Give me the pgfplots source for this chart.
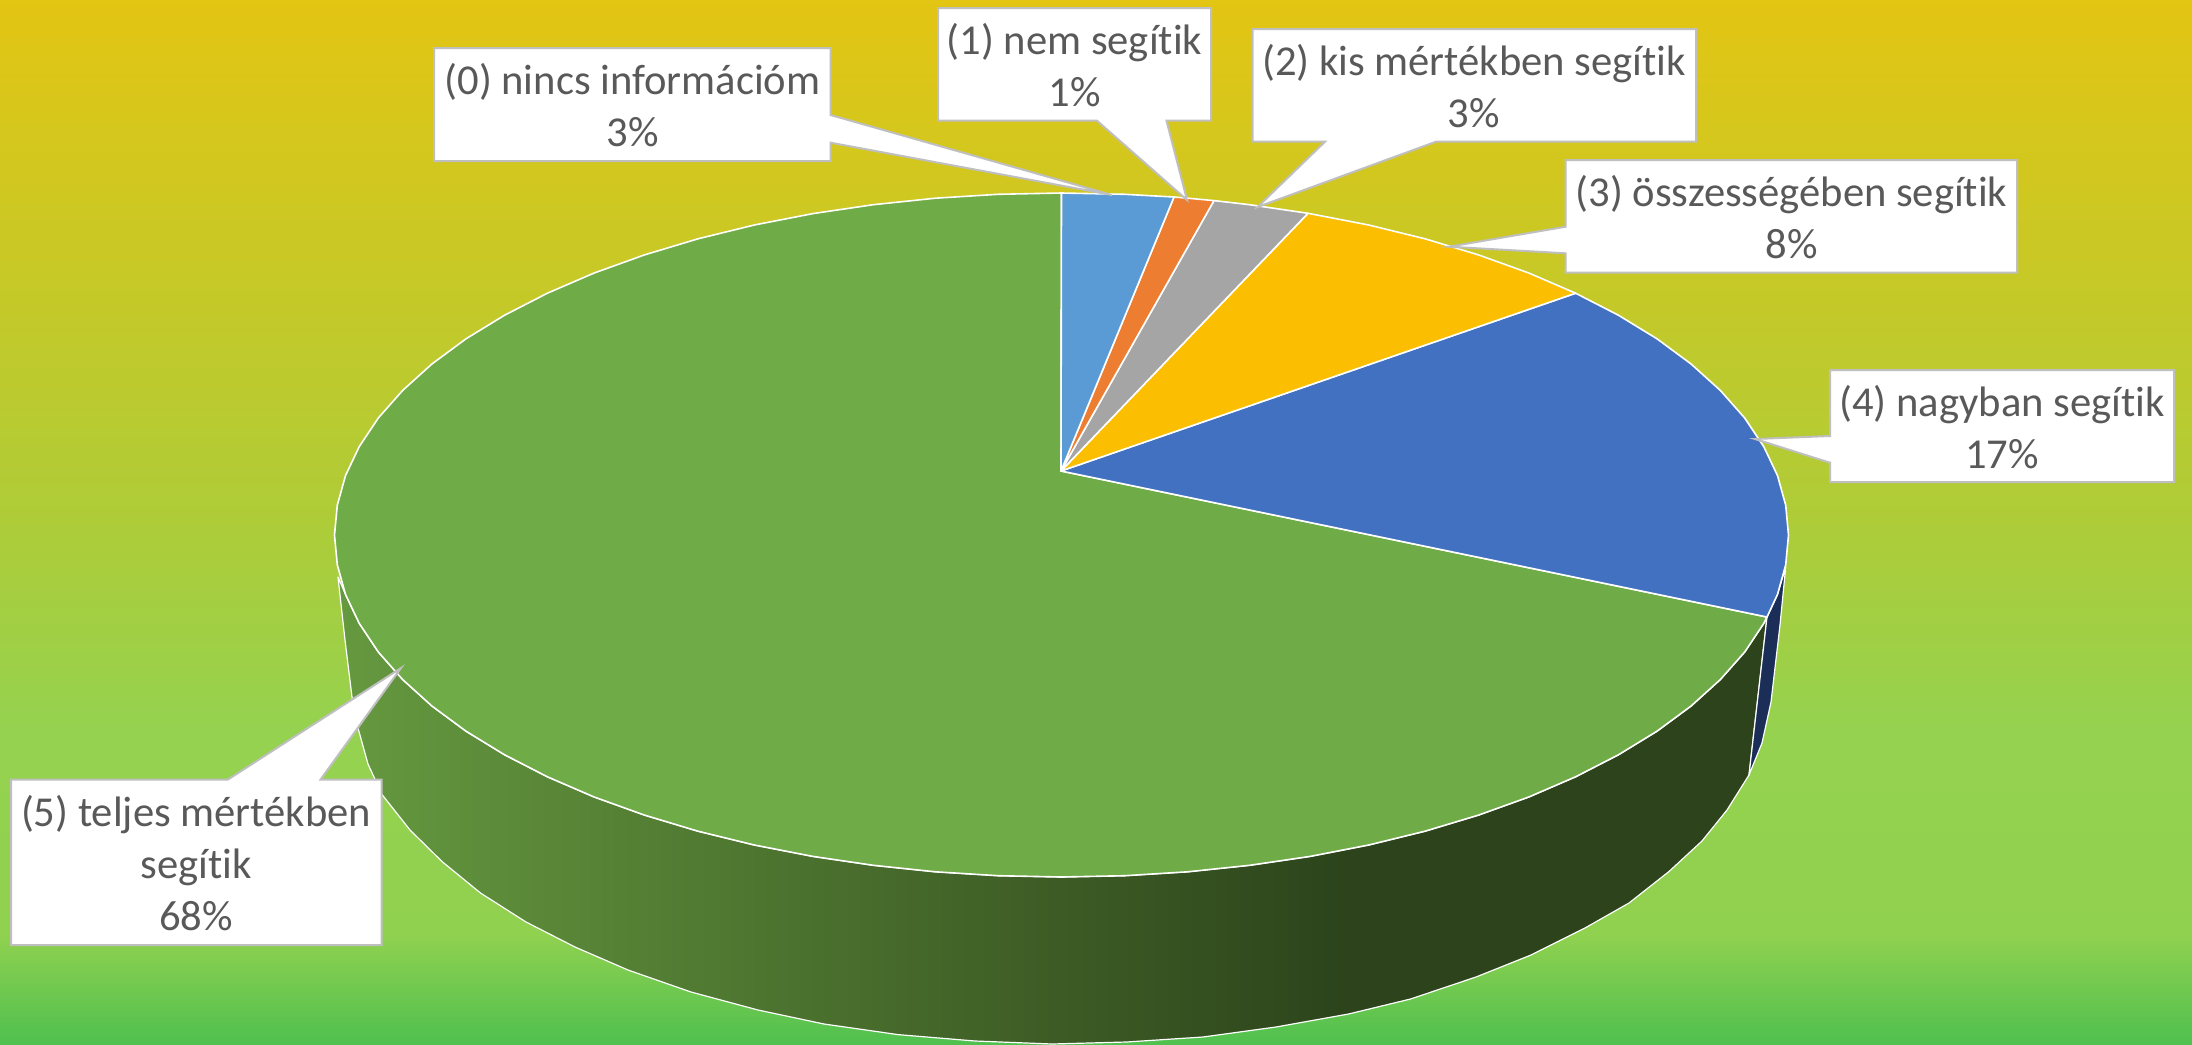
\documentclass[border=0pt]{standalone}
\usepackage{fontspec}
\setmainfont{Carlito}[Ligatures=NoCommon]
\usepackage{pgfplots}
\pgfplotsset{compat=1.18}
\definecolor{sliceA}{HTML}{5B9BD5}
\definecolor{sliceB}{HTML}{ED7D31}
\definecolor{sliceC}{HTML}{A5A5A5}
\definecolor{sliceD}{HTML}{FBBE00}
\definecolor{sliceE}{HTML}{4271C2}
\definecolor{sliceF}{HTML}{6FAB47}
\definecolor{sideE}{HTML}{1B2E57}
\definecolor{txtgray}{HTML}{595959}
\definecolor{boxline}{HTML}{BFBFBF}
\definecolor{bgA}{HTML}{E3C513}
\definecolor{bgB}{HTML}{AECC38}
\definecolor{bgC}{HTML}{95D24F}
\definecolor{bgD}{HTML}{90D14F}
\definecolor{bgE}{HTML}{4FC04F}
\definecolor{sideL}{HTML}{65993F}
\definecolor{sideM}{HTML}{3D5C25}
\definecolor{sideR}{HTML}{2C431B}
\pgfdeclareverticalshading{bgshade}{100bp}{color(0bp)=(bgE); color(25bp)=(bgE); color(30.3bp)=(bgD); color(40.1bp)=(bgC); color(50.1bp)=(bgB); color(75bp)=(bgA); color(100bp)=(bgA)}
\pgfdeclarehorizontalshading{sideshade}{100bp}{color(0bp)=(sideL); color(25bp)=(sideL); color(50bp)=(sideM); color(60.5bp)=(sideR); color(100bp)=(sideR)}
\tikzset{
 slice/.style={draw=white,line width=0.8pt,line join=round},
 callout/.style={draw=boxline,line width=1pt,fill=white,line join=miter},
 lbl/.style={text=txtgray,align=center,inner sep=0pt,font=\fontsize{21.3}{26}\selectfont}}
\begin{document}
\begin{tikzpicture}
\begin{axis}[width=1096pt,height=522.5pt,scale only axis,hide axis,
 xmin=0,xmax=2192,ymin=0,ymax=1045,y dir=reverse]

\fill[shading=bgshade] (0,0) rectangle (2192,1045);

% side of the big slice
\addplot[slice,line width=0.6pt,shading=sideshade] coordinates {
(1767,617)(1763.7,623.5)(1744.7,652)(1720.4,679.5)(1691.1,706)(1657,731.2)(1618.4,754.8)(1575.6,776.8)(1528.8,797)(1478.5,815.1)(1425,831.2)(1368.7,845)(1310.1,856.4)(1249.7,865.3)(1187.7,871.8)(1124.9,875.7)(1061.5,877)
(998.1,875.7)(935.3,871.8)(873.3,865.3)(812.9,856.4)(754.3,845)(698,831.2)(644.5,815.1)(594.2,797)(547.4,776.8)(504.6,754.8)(466,731.2)(431.9,706)(402.6,679.5)(378.3,652)(359.3,623.5)(345.5,594.4)(338,577)
(345,640)(352,697)(358,728)(368,764)(382,794.5)(410,830)(442,861.5)(480.5,893)(526,922)(575,947)(628,970)(691,992)(758,1010)(824,1024)(898,1034.6)(975,1041)(1052,1044)
(1126.5,1042)(1203,1037)(1276,1027)(1348.6,1014)(1410.5,999)(1476,977)(1531,955)(1585,928)(1629,903)(1669,871.5)(1702,841)(1727,810)(1749,775)
} -- cycle;

% side of the 17% slice
\addplot[slice,line width=0.6pt,fill=sideE] coordinates {
(1767,617)(1777.5,594.4)(1785.7,567)(1780,625)(1771,702)(1762,743)(1749,775)
} -- cycle;

% top face, one polygon per slice
\addplot[slice,fill=sliceF] coordinates {
(1061,471)(1767,617)(1763.7,623.5)(1744.7,652)(1720.4,679.5)(1691.1,706)(1657,731.2)(1618.4,754.8)(1575.6,776.8)(1528.8,797)(1478.5,815.1)(1425,831.2)(1368.7,845)(1310.1,856.4)(1249.7,865.3)(1187.7,871.8)(1124.9,875.7)(1061.5,877)
(998.1,875.7)(935.3,871.8)(873.3,865.3)(812.9,856.4)(754.3,845)(698,831.2)(644.5,815.1)(594.2,797)(547.4,776.8)(504.6,754.8)(466,731.2)(431.9,706)(402.6,679.5)(378.3,652)(359.3,623.5)(345.5,594.4)(337.3,564.8)(334.5,535)
(337.3,505.2)(345.5,475.6)(359.3,446.5)(378.3,418)(402.6,390.5)(431.9,364)(466,338.8)(504.6,315.2)(547.4,293.2)(594.2,273)(644.5,254.9)(698,238.8)(754.3,225)(812.9,213.6)(873.3,204.7)(935.3,198.2)(998.1,194.3)(1061.5,193)
} -- cycle;
\addplot[slice,fill=sliceE] coordinates {
(1061,471)(1575.6,293.2)(1618.4,315.2)(1657,338.8)(1691.1,364)(1720.4,390.5)(1744.7,418)(1763.7,446.5)(1777.5,475.6)(1785.7,505.2)(1788.5,535)(1785.7,564.8)(1777.5,594.4)(1767,617)
} -- cycle;
\addplot[slice,fill=sliceD] coordinates {
(1061,471)(1308,213.3)(1368.7,225)(1425,238.8)(1478.5,254.9)(1528.8,273)(1575.6,293.2)
} -- cycle;
\addplot[slice,fill=sliceC] coordinates {
(1061,471)(1214,200.6)(1249.7,204.7)(1308,213.3)
} -- cycle;
\addplot[slice,fill=sliceB] coordinates {
(1061,471)(1174,197)(1187.7,198.2)(1214,200.6)
} -- cycle;
\addplot[slice,fill=sliceA] coordinates {
(1061,471)(1061.5,193)(1124.9,194.3)(1174,197)
} -- cycle;

% data labels
\draw[callout] (434,48) -- (830.6,48) -- (830.6,115) -- (1112,195) -- (830.6,142.7) -- (830.6,161) -- (434,161) -- cycle;
\draw[callout] (938,8) -- (1211,8) -- (1211,120.7) -- (1166.5,120.7) -- (1187,200) -- (1097,120.7) -- (938,120.7) -- cycle;
\draw[callout] (1252.5,29) -- (1696,29) -- (1696,141.7) -- (1436,141.7) -- (1257.6,207) -- (1325,141.7) -- (1252.5,141.7) -- cycle;
\draw[callout] (1565.7,160) -- (2017,160) -- (2017,272.7) -- (1565.7,272.7) -- (1565.7,253.3) -- (1449,246.7) -- (1565.7,226.7) -- cycle;
\draw[callout] (1830,370) -- (2174,370) -- (2174,482) -- (1830,482) -- (1830,462.7) -- (1755,439) -- (1830,436) -- cycle;
\draw[callout] (11,779.5) -- (228,779.5) -- (401,668) -- (320.6,779.5) -- (381.6,779.5) -- (381.6,945) -- (11,945) -- cycle;

\node[lbl] at (632.5,105.5) {(0) nincs információm\\3\%};
\node[lbl] at (1074.5,65) {(1) nem segítik\\1\%};
\node[lbl] at (1474,86.5) {(2) kis mértékben segítik\\3\%};
\node[lbl] at (1791.5,217.5) {(3) összességében segítik\\8\%};
\node[lbl] at (2002,427) {(4) nagyban segítik\\17\%};
\node[lbl] at (196,863) {(5) teljes mértékben\\segítik\\68\%};
\end{axis}
\end{tikzpicture}
\end{document}
